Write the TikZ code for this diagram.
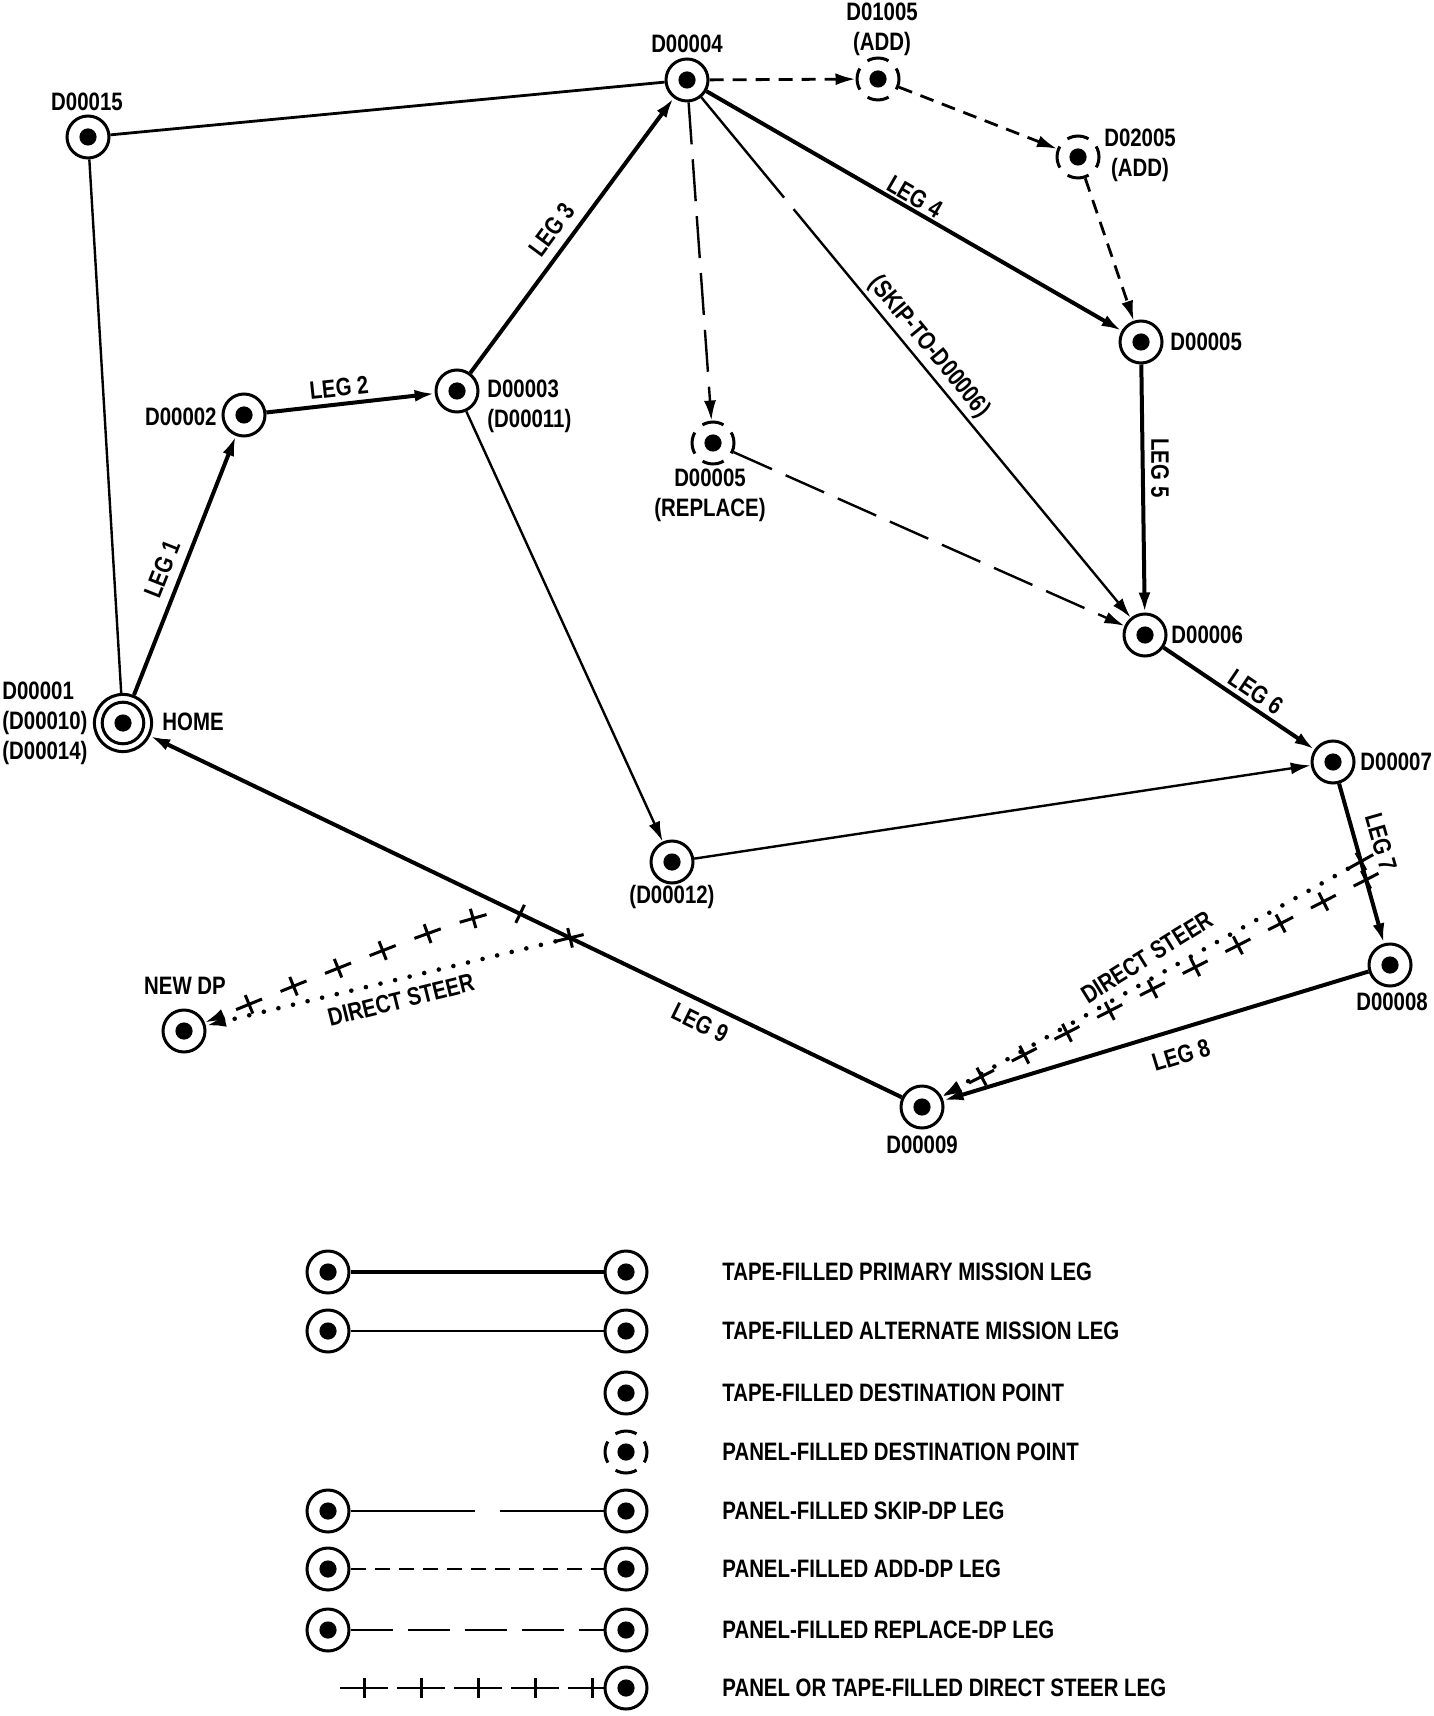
\documentclass[tikz,border=0pt]{standalone}
\usepackage{fontspec}
\setmainfont{Liberation Sans}[FakeStretch=0.81]
\usetikzlibrary{arrows.meta,calc,decorations.markings}
\tikzset{
  dp/.style={circle, draw, line width=1.5pt, minimum size=21pt, inner sep=0pt, fill=white,
    path picture={\fill[black] (path picture bounding box.center) circle (4.3pt);}},
  paneldp/.style={dp, dash pattern=on 11pt off 5.49pt, dash phase=5.5pt},
  homedp/.style={circle, draw, line width=1.5pt, minimum size=28.6pt, inner sep=0pt, fill=white,
    path picture={\draw[black, line width=1.5pt] (path picture bounding box.center) circle (10.4pt);
                  \fill[black] (path picture bounding box.center) circle (4.3pt);}},
  lbl/.style={font=\bfseries\fontsize{12.6}{15}\selectfont, inner sep=0pt},
  tip/.style={-{Latex[length=10pt,width=6pt]}},
  primary/.style={line width=2pt, tip},
  alternate/.style={line width=1.2pt},
  addleg/.style={line width=1.4pt, dash pattern=on 7pt off 4.5pt, tip},
  replleg/.style={line width=1.2pt, dash pattern=on 21pt off 7.5pt, tip},
  skipleg/.style={line width=1.2pt, dash pattern=on 65pt off 7.5pt on 400pt off 1pt, tip},
  crossmark/.style={-, solid, line cap=butt, line width=1.5pt},
  crosspath/.style={line width=1.5pt, dash pattern=on 0pt off 5000pt, tip,
    postaction={decorate, decoration={markings,
      mark=between positions 0pt and -14pt step 24pt with
        {\draw[crossmark] (-7pt,0) -- (7pt,0) (0,-5pt) -- (0,5pt);}}}},
  dotpath/.style={line width=2.3pt, line cap=round, dash pattern=on 0pt off 7.5pt, tip,
    postaction={decorate, decoration={markings,
      mark=at position 0pt with
        {\draw[crossmark] (-7pt,0) -- (7pt,0) (0,-5pt) -- (0,5pt);}}}},
  legcross/.style={line width=1.4pt, dash pattern=on 24pt off 4.5pt,
    postaction={decorate, decoration={markings,
      mark=between positions 12pt and -2pt step 28.5pt with
        {\draw[crossmark] (0,-5pt) -- (0,5pt);}}}},
}
\begin{document}
\begin{tikzpicture}[x=0.5pt, y=-0.5pt]
\useasboundingbox (0,0) rectangle (1433,1716);
% ---------------- nodes ----------------
\node[dp] (d15) at (88,137) {};
\node[dp] (d04) at (687,80) {};
\node[paneldp] (d1005) at (878,79) {};
\node[paneldp] (d2005) at (1078,157) {};
\node[dp] (d02) at (244,415) {};
\node[dp] (d03) at (457,391) {};
\node[dp] (d05) at (1141,342) {};
\node[paneldp] (d05r) at (713,443) {};
\node[homedp] (d01) at (123,723) {};
\node[dp] (d06) at (1145,635) {};
\node[dp] (d07) at (1333,762) {};
\node[dp] (d12) at (672,862) {};
\node[dp] (d08) at (1390,965) {};
\node[dp] (d09) at (922,1107) {};
\node[dp] (ndp) at (184,1031) {};
% ---------------- labels ----------------
\node[lbl] (l15) at (87,102) {D00015};
\node[lbl] (l04) at (687,44) {D00004};
\node[lbl, align=center] (l1005) at (882,29) {D01005\\(ADD)};
\node[lbl, align=center] (l2005) at (1140,155) {D02005\\(ADD)};
\node[lbl, anchor=west] (l05) at (1170,342) {D00005};
\node[lbl, anchor=east] (l02) at (217,417) {D00002};
\node[lbl, anchor=west, align=left] (l03) at (487,406) {D00003\\(D00011)};
\node[lbl, align=center] (l05r) at (710,495) {D00005\\(REPLACE)};
\node[lbl, anchor=west, align=left] (l01) at (2,723) {D00001\\(D00010)\\(D00014)};
\node[lbl, anchor=west] (lhome) at (162,722) {HOME};
\node[lbl, anchor=west] (l06) at (1171,635) {D00006};
\node[lbl, anchor=west] (l07) at (1360,762) {D00007};
\node[lbl] (l12) at (672,897) {(D00012)};
\node[lbl] (l08) at (1392,1002) {D00008};
\node[lbl] (l09) at (922,1145) {D00009};
\node[lbl] (lndp) at (185,986) {NEW DP};
\node[lbl, rotate=68.5] (leg1) at (162,569) {LEG 1};
\node[lbl, rotate=6] (leg2) at (339,388) {LEG 2};
\node[lbl, rotate=53.5] (leg3) at (552,230) {LEG 3};
\node[lbl, rotate=-30] (leg4) at (915,197) {LEG 4};
\node[lbl, rotate=-90] (leg5) at (1160,468) {LEG 5};
\node[lbl, rotate=-34] (leg6) at (1256,692) {LEG 6};
\node[lbl, rotate=-74] (leg7) at (1381,842) {LEG 7};
\node[lbl, rotate=17] (leg8) at (1181,1055) {LEG 8};
\node[lbl, rotate=-26] (leg9) at (700,1023) {LEG 9};
\node[lbl, rotate=-50.5] (lskip) at (929,347) {(SKIP-TO-D00006)};
\node[lbl, rotate=14] (lds1) at (401,1000) {DIRECT STEER};
\node[lbl, rotate=32] (lds2) at (1147,957) {DIRECT STEER};
% ---------------- connectors ----------------
\draw[alternate] (d01) -- (d15);
\draw[line width=1.4pt] (d15) -- (d04);
\draw[primary] (d01) -- (d02);
\draw[primary] (d02) -- (d03);
\draw[primary] (d03) -- (d04);
\draw[primary] (d04) -- (d05);
\draw[primary] (d05) -- (d06);
\draw[primary] (d06) -- (d07);
\draw[primary] (d07) -- (d08);
\draw[primary] (d08) -- (d09);
\draw[primary] (d09) -- (d01);
\draw[alternate, tip] (d03) -- (d12);
\draw[alternate, tip] (d12) -- (d07);
\draw[addleg] (d04) -- (d1005);
\draw[addleg] (d1005) -- (d2005);
\draw[addleg] (d2005) -- (d05);
\draw[replleg] (d04) -- (d05r);
\draw[replleg] (d05r) -- (d06);
\draw[skipleg] (d04) -- (d06);
% direct steer
\coordinate (j9a) at ($(d09)!0.503!(d01)$);
\coordinate (j9b) at ($(d09)!0.4405!(d01)$);
\coordinate (j7a) at ($(d07)!0.49!(d08)$);
\coordinate (j7b) at ($(d07)!0.58!(d08)$);
\coordinate (c9) at ($(j9a)!12pt!(d01)$);
\draw[crosspath] (j9a) .. controls (c9) and (430,930) .. (ndp);
\draw[dotpath] (j9b) -- (ndp);
\draw[crosspath] (j7b) -- (d09);
\draw[dotpath] (j7a) -- (d09);
% ---------------- legend ----------------
\node[dp] (g1a) at (328,1272) {};
\node[dp] (g1b) at (626,1272) {};
\draw[line width=2pt] (g1a) -- (g1b);
\node[dp] (g2a) at (328,1331) {};
\node[dp] (g2b) at (626,1331) {};
\draw[line width=1.4pt] (g2a) -- (g2b);
\node[dp] (g3) at (626,1393) {};
\node[paneldp] (g4) at (626,1452) {};
\node[dp] (g5a) at (328,1511) {};
\node[dp] (g5b) at (626,1511) {};
\draw[line width=1.4pt, dash pattern=on 62pt off 12.5pt on 300pt off 1pt] (g5a) -- (g5b);
\node[dp] (g6a) at (328,1569) {};
\node[dp] (g6b) at (626,1569) {};
\draw[line width=1.4pt, dash pattern=on 7.5pt off 4.5pt] (g6a) -- (g6b);
\node[dp] (g7a) at (328,1630) {};
\node[dp] (g7b) at (626,1630) {};
\draw[line width=1.4pt, dash pattern=on 21pt off 7.5pt] (g7a) -- (g7b);
\coordinate (g8a) at (340,1688);
\node[dp] (g8b) at (626,1688) {};
\draw[legcross] (g8a) -- (g8b);
\node[lbl, anchor=west] (t1) at (722,1272) {TAPE-FILLED PRIMARY MISSION LEG};
\node[lbl, anchor=west] (t2) at (722,1331) {TAPE-FILLED ALTERNATE MISSION LEG};
\node[lbl, anchor=west] (t3) at (722,1393) {TAPE-FILLED DESTINATION POINT};
\node[lbl, anchor=west] (t4) at (722,1452) {PANEL-FILLED DESTINATION POINT};
\node[lbl, anchor=west] (t5) at (722,1511) {PANEL-FILLED SKIP-DP LEG};
\node[lbl, anchor=west] (t6) at (722,1569) {PANEL-FILLED ADD-DP LEG};
\node[lbl, anchor=west] (t7) at (722,1630) {PANEL-FILLED REPLACE-DP LEG};
\node[lbl, anchor=west] (t8) at (722,1688) {PANEL OR TAPE-FILLED DIRECT STEER LEG};
\end{tikzpicture}
\end{document}
